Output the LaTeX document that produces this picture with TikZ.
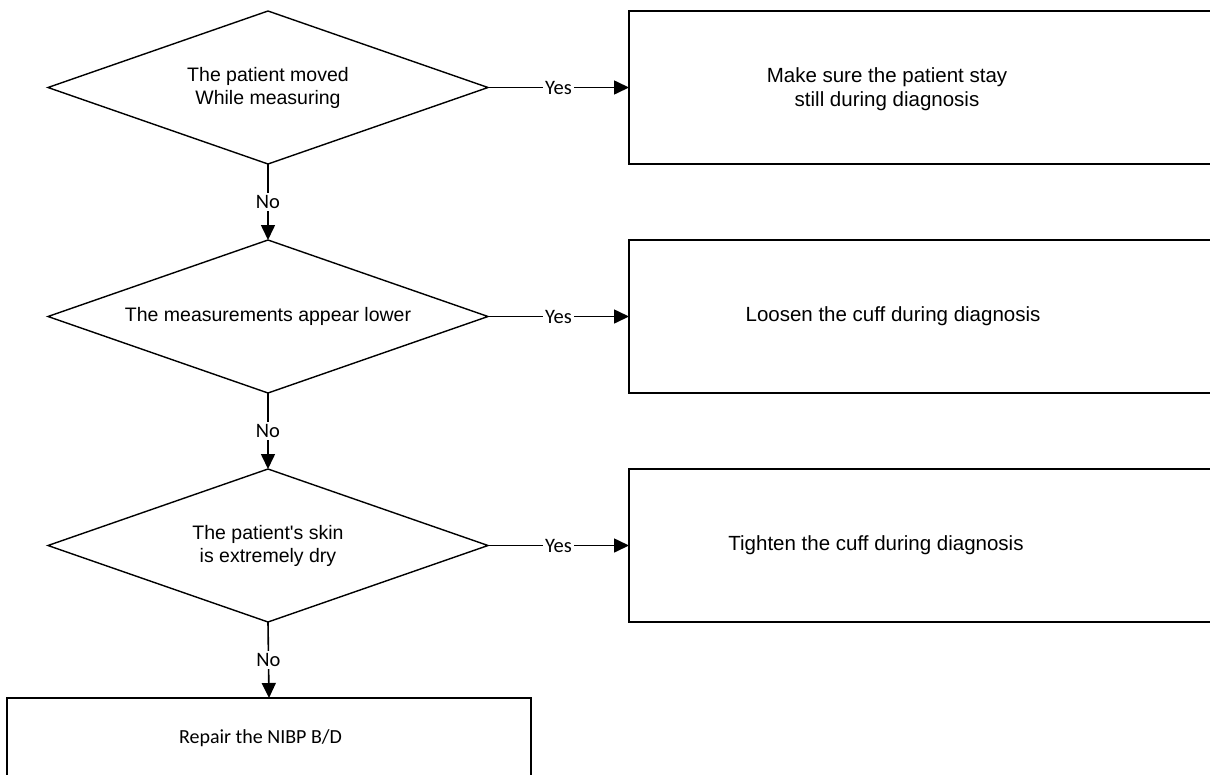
\documentclass[tikz,border=0pt]{standalone}
\usepackage{fontspec}
\setmainfont{Liberation Sans}
\newfontfamily\carlito{Carlito}
\usetikzlibrary{shapes.geometric,arrows.meta}
\begin{document}
\begin{tikzpicture}[x=1pt,y=-1pt,
  decision/.style={diamond, draw, line width=1.4pt, minimum width=440pt, minimum height=153pt,
    inner sep=0pt, outer sep=0pt, aspect=2.876, align=center, font=\fontsize{19.5}{23}\selectfont},
  action/.style={rectangle, draw, line width=1.6pt, minimum width=620pt, minimum height=152.5pt,
    anchor=west, inner sep=0pt, outer sep=0pt},
  atext/.style={align=center, font=\fontsize{20.5}{24}\selectfont},
  endbox/.style={rectangle, draw, line width=1.6pt, minimum width=524pt, minimum height=80pt,
    inner sep=0pt, outer sep=0pt, font=\carlito\fontsize{20}{24}\selectfont},
  flow/.style={line width=1.6pt, -{Triangle[length=15pt,width=14pt]}},
  lbl/.style={fill=white, inner sep=2pt, font=\carlito\fontsize{20.5}{22}\selectfont},
]
\useasboundingbox (0,0) rectangle (1210,774);
\clip (0,0) rectangle (1210,774);

\node[decision] (d1) at (268,87.5) {The patient moved\\While measuring};
\node[decision] (d2) at (268,316.5) {The measurements appear lower};
\node[decision] (d3) at (268,545.5) {The patient\textquotesingle s skin\\is extremely dry};

\node[action] (b1) at (629,87.5) {};
\node[atext] (b1t) at (887,89) {Make sure the patient stay\\still during diagnosis};
\node[action] (b2) at (629,316.5) {};
\node[atext] (b2t) at (893,316.5) {Loosen the cuff during diagnosis};
\node[action] (b3) at (629,545.5) {};
\node[atext] (b3t) at (876,545.5) {Tighten the cuff during diagnosis};

\node[endbox] (r) at (269,738) {Repair the NIBP B/D\hspace*{17pt}};

\draw[flow] (d1.east) -- node[lbl] {Yes} (b1.west);
\draw[flow] (d2.east) -- node[lbl] {Yes} (b2.west);
\draw[flow] (d3.east) -- node[lbl] {Yes} (b3.west);

\draw[flow] (d1.south) -- node[lbl] {No} (d2.north);
\draw[flow] (d2.south) -- node[lbl] {No} (d3.north);
\draw[flow] (d3.south) -- node[lbl] {No} (r.north);
\end{tikzpicture}
\end{document}
